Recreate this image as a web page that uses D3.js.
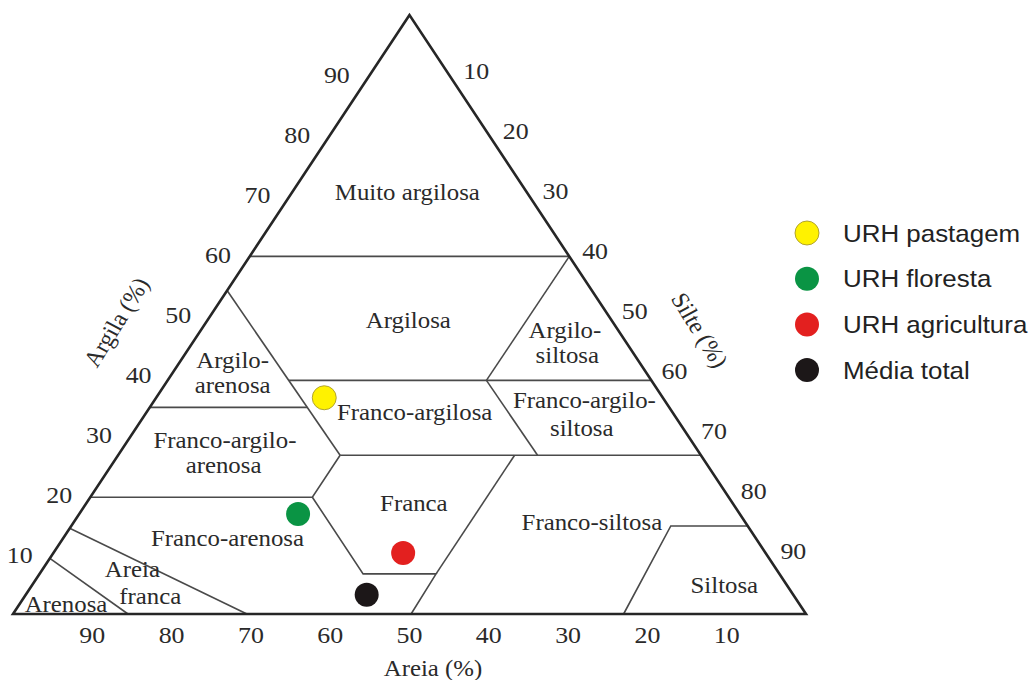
<!DOCTYPE html>
<html>
<head>
<meta charset="utf-8">
<script src="https://cdn.jsdelivr.net/npm/d3@7"></script>
<style>
  body { margin: 0; background: #fff; }
  svg { display: block; }
</style>
</head>
<body>
<svg id="chart" width="1036" height="680"></svg>
<script>
// Samples plotted on the texture triangle (percentages)
const sampleNames  = ["URH pastagem", "URH floresta", "URH agricultura", "Média total"];
const sampleArgila = [36.1, 16.7, 10.2, 3.2];
const sampleSilte  = [21.2, 27.6, 44.1, 43.0];
const sampleAreia  = [42.7, 55.7, 45.7, 53.8];
const sampleColors = ["#fff200", "#0a9444", "#e3201f", "#1c1718"];

// Axis tick values (percent)
const tickValues = [10, 20, 30, 40, 50, 60, 70, 80, 90];

// Texture class boundaries, each a polyline of [argila, silte] pairs
const boundaries = [
  [[59.7, 0], [59.7, 40.3]],
  [[54.0, 0], [26.5, 28.0]],
  [[39.0, 15.3], [39.0, 61.0]],
  [[34.5, 0], [34.5, 19.85]],
  [[59.7, 40.3], [39.0, 40.2]],
  [[39.0, 40.2], [26.5, 52.9]],
  [[26.5, 28.0], [26.5, 73.5]],
  [[19.5, 0], [19.5, 28.0], [26.5, 28.0]],
  [[19.5, 28.0], [6.7, 40.8], [6.7, 50.0], [0, 50.2]],
  [[6.7, 50.0], [26.5, 50.0]],
  [[0, 77.0], [14.7, 75.6], [14.7, 85.3]],
  [[14.3, 0], [0, 29.5]],
  [[9.3, 0], [0, 14.5]]
];

// Texture class names, one entry per text line, anchored by [argila, silte]
const classText   = ["Muito argilosa", "Argilosa", "Argilo-", "siltosa", "Argilo-", "arenosa",
                     "Franco-argilosa", "Franco-argilo-", "siltosa", "Franco-argilo-", "arenosa",
                     "Franca", "Franco-arenosa", "Franco-siltosa", "Siltosa", "Areia", "franca", "Arenosa"];
const classArgila = [70.45, 49.1, 47.4, 43.2, 42.4, 38.2,
                     33.7, 35.7, 31.05, 29.05, 24.9,
                     18.5, 12.7, 15.4, 4.8, 7.5, 3.0, 1.67];
const classSilte  = [14.5, 25.3, 45.9, 48.3, 6.5, 8.6,
                     33.8, 54.2, 56.2, 12.2, 14.1,
                     41.3, 20.7, 65.3, 87.3, 11.3, 15.8, 5.85];

const svg = d3.select("#chart");
const serif = "'Liberation Serif', 'Times New Roman', serif";
const sans = "'Liberation Sans', Arial, sans-serif";
const stretch = 1.08;

// Ternary projection: horizontal position from silte + argila/2, vertical from argila
const xScale = d3.scaleLinear().domain([0, 100]).range([13, 806]);
const yScale = d3.scaleLinear().domain([0, 100]).range([614, 15]);
const px = (argila, silte) => xScale(silte + argila / 2);
const py = argila => yScale(argila);
const line = d3.line().x(d => px(d[0], d[1])).y(d => py(d[0]));

// Class boundaries
svg.append("g")
  .selectAll("path")
  .data(boundaries)
  .join("path")
  .attr("d", line)
  .attr("fill", "none")
  .attr("stroke", "#4a4a4a")
  .attr("stroke-width", 1.6);

// Triangle outline
svg.append("path")
  .attr("d", line([[100, 0], [0, 0], [0, 100], [100, 0]]) + "Z")
  .attr("fill", "none")
  .attr("stroke", "#262626")
  .attr("stroke-width", 2.6)
  .attr("stroke-linejoin", "miter");

function addText(g, txt, x, y, size, family, rot) {
  return g.append("text")
    .attr("transform", `translate(${x},${y}) scale(${stretch},1)` + (rot ? ` rotate(${rot})` : ""))
    .attr("text-anchor", "middle")
    .attr("dy", "0.35em")
    .attr("font-family", family)
    .attr("font-size", size)
    .attr("fill", "#2a2a2a")
    .text(txt);
}

// Class names
const gClass = svg.append("g");
classText.forEach((t, i) => {
  addText(gClass, t, px(classArgila[i], classSilte[i]), py(classArgila[i]), 23, serif);
});

// Tick labels
const gTicks = svg.append("g");
tickValues.forEach(v => {
  // Argila along the left edge (silte = 0)
  addText(gTicks, String(v), px(v, 0) - 33, py(v), 24, serif);
  // Silte along the right edge (areia = 0)
  addText(gTicks, String(v), px(100 - v, v) + 27, py(100 - v) - 4, 24, serif);
  // Areia along the base (argila = 0)
  addText(gTicks, String(v), px(0, 100 - v), py(0) + 21, 24, serif);
});

// Axis titles
addText(svg, "Areia (%)", 433, 668, 23, serif);
addText(svg, "Argila (%)", 116, 322, 23, serif, -60);
addText(svg, "Silte (%)", 700, 330, 23, serif, 60);

// Sample points
svg.append("g")
  .selectAll("circle")
  .data(sampleNames.map((n, i) => ({ n, a: sampleArgila[i], s: sampleSilte[i], r: sampleAreia[i], c: sampleColors[i] })))
  .join("circle")
  .attr("cx", d => px(d.a, d.s))
  .attr("cy", d => py(d.a))
  .attr("r", 12)
  .attr("fill", d => d.c)
  .attr("stroke", d => d.c === "#fff200" ? "#a89a2a" : "none")
  .attr("stroke-width", 0.9);

// Legend
const legend = svg.append("g").attr("transform", "translate(807,233)");
sampleNames.forEach((n, i) => {
  const row = legend.append("g").attr("transform", `translate(0,${i * 45.7})`);
  row.append("circle")
    .attr("r", 12)
    .attr("fill", sampleColors[i])
    .attr("stroke", sampleColors[i] === "#fff200" ? "#a89a2a" : "none")
    .attr("stroke-width", 0.9);
  row.append("text")
    .attr("transform", `translate(36,0) scale(${stretch},1)`)
    .attr("dy", "0.36em")
    .attr("font-family", sans)
    .attr("font-size", 24)
    .attr("fill", "#222")
    .text(n);
});
</script>
</body>
</html>
